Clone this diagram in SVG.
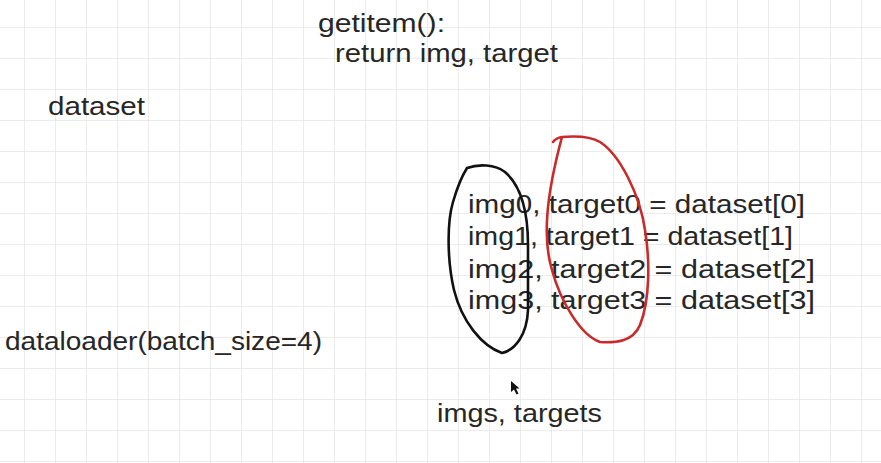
<svg xmlns="http://www.w3.org/2000/svg" width="881" height="463" viewBox="0 0 881 463">
<defs>
<pattern id="grid" x="24" y="27" width="31" height="31" patternUnits="userSpaceOnUse">
<path d="M0 0 V31 M0 0 H31" fill="none" stroke="#e6e6e6" stroke-width="1.6"/>
</pattern>
</defs>
<style>
text{font-family:"Liberation Sans","DejaVu Sans",sans-serif;font-size:25px;fill:#262626}
.loop{fill:none;stroke-width:2.6;stroke-linecap:round;stroke-linejoin:round}
</style>
<rect width="881" height="463" fill="#ffffff"/>
<rect width="881" height="463" fill="url(#grid)"/>
<g id="getitem">
<text x="318" y="32" textLength="127" lengthAdjust="spacingAndGlyphs">getitem():</text>
<text x="335" y="62" textLength="223" lengthAdjust="spacingAndGlyphs">return img, target</text>
</g>
<g id="dataset"><text x="48" y="115" textLength="97" lengthAdjust="spacingAndGlyphs">dataset</text></g>
<g id="items">
<text x="468" y="213" textLength="337" lengthAdjust="spacingAndGlyphs">img0, target0 = dataset[0]</text>
<text x="468" y="245" textLength="325" lengthAdjust="spacingAndGlyphs">img1, target1 = dataset[1]</text>
<text x="468" y="278" textLength="347" lengthAdjust="spacingAndGlyphs">img2, target2 = dataset[2]</text>
<text x="468" y="309" textLength="347" lengthAdjust="spacingAndGlyphs">img3, target3 = dataset[3]</text>
</g>
<g id="dataloader"><text x="5" y="350" textLength="317" lengthAdjust="spacingAndGlyphs">dataloader(batch_size=4)</text></g>
<g id="batch"><text x="437" y="422" textLength="165" lengthAdjust="spacingAndGlyphs">imgs, targets</text></g>
<g id="connectors">
<path class="loop" stroke="#111111" d="M467 168 C478 164 495 164 505 172 C520 185 528 210 528 245 L528 310 C527 335 515 350 502 353 C482 346 462 322 454 290 C447 260 447 222 453 202 C457 188 462 176 467 168"/>
<path class="loop" stroke="#c92a2a" d="M553 142 Q556 138 562 137 C575 136 590 136 600 142 C620 155 640 195 645 230 C650 260 650 300 640 325 C633 342 615 343 600 342 C580 335 560 300 552 270 C543 240 545 200 562 137"/>
</g>
<polygon points="511,381 511,392 514,389.5 516.5,394.5 518.5,393.5 516,388.5 519.5,388.5" fill="#111111"/>
</svg>
